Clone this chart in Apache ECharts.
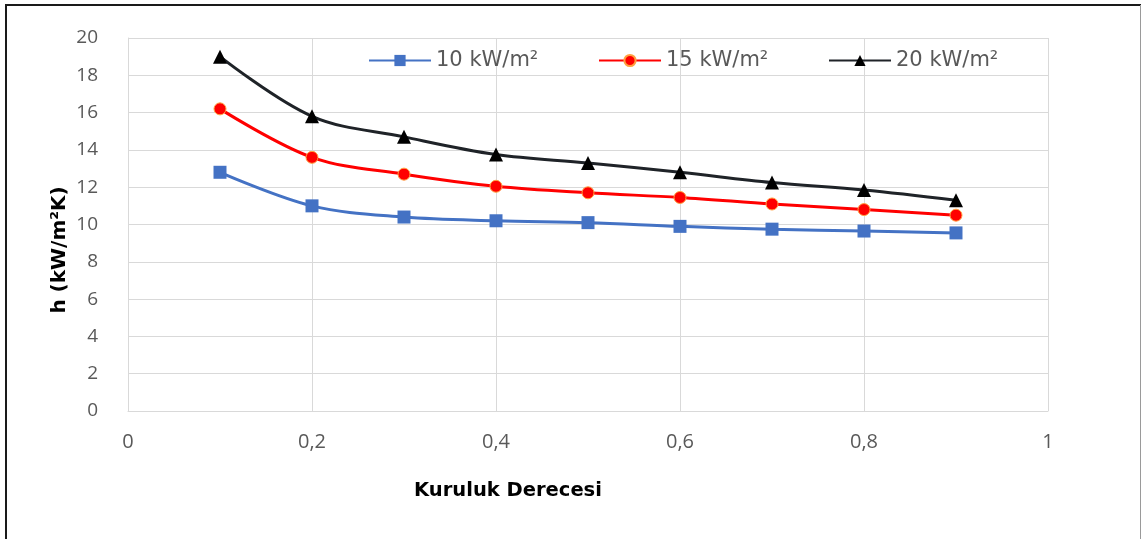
<!DOCTYPE html>
<html>
<head>
<meta charset="utf-8">
<script src="https://cdn.jsdelivr.net/npm/echarts@6/dist/echarts.min.js"></script>
<style>
  html, body { margin: 0; padding: 0; background: #fff; }
  #chart { width: 1142px; height: 539px; }
</style>
</head>
<body>
<div id="chart"></div>
<script>
// Kuruluk derecesi (x) ve ısı transfer katsayısı h (kW/m²K)
const dryness = [0.1, 0.2, 0.3, 0.4, 0.5, 0.6, 0.7, 0.8, 0.9];
const h10 = [12.8, 11.0, 10.4, 10.2, 10.1, 9.9, 9.75, 9.65, 9.55];
const h15 = [16.2, 13.6, 12.7, 12.05, 11.7, 11.45, 11.1, 10.8, 10.5];
const h20 = [19.0, 15.8, 14.7, 13.75, 13.3, 12.8, 12.25, 11.85, 11.3];
const seriesNames = ['10 kW/m²', '15 kW/m²', '20 kW/m²'];
const xTitle = 'Kuruluk Derecesi';
const yTitle = 'h (kW/m²K)';

const pairs = vals => dryness.map((x, i) => [x, vals[i]]);

const chart = echarts.init(document.getElementById('chart'), null, { renderer: 'canvas' });

const tickFont = { fontFamily: 'Open Sans, sans-serif', fontSize: 19, color: '#595959' };
const legendText = { fontFamily: 'DejaVu Sans, sans-serif', fontSize: 21, color: '#595959' };

// one legend block per series so each entry sits at its own x position
const legendAt = (name, left) => ({
  data: [name], left: left, top: 50,
  itemWidth: 62, itemHeight: 14, padding: 0,
  textStyle: legendText
});

chart.setOption({
  animation: false,
  backgroundColor: '#ffffff',
  grid: { left: 128, right: 94, top: 38, bottom: 128, containLabel: false },
  graphic: [
    { type: 'line', shape: { x1: 6, y1: 4, x2: 6, y2: 539 }, style: { stroke: '#1a1a1a', lineWidth: 2 } },
    { type: 'line', shape: { x1: 5, y1: 5, x2: 1141, y2: 5 }, style: { stroke: '#1a1a1a', lineWidth: 2 } },
    { type: 'line', shape: { x1: 1140.5, y1: 5, x2: 1140.5, y2: 539 }, style: { stroke: '#9a9a9a', lineWidth: 1 } },
    {
      type: 'text', x: 60, y: 250, rotation: Math.PI / 2,
      style: { text: yTitle, fontFamily: 'DejaVu Sans, sans-serif', fontWeight: 'bold', fontSize: 20,
               fill: '#000', align: 'center', verticalAlign: 'middle' }
    },
    {
      type: 'text', x: 508, y: 491,
      style: { text: xTitle, fontFamily: 'DejaVu Sans, sans-serif', fontWeight: 'bold', fontSize: 19.5,
               fill: '#000', align: 'center', verticalAlign: 'middle' }
    }
  ],
  legend: [
    legendAt(seriesNames[0], 368),
    legendAt(seriesNames[1], 598),
    legendAt(seriesNames[2], 828)
  ],
  xAxis: {
    type: 'value',
    min: 0, max: 1, interval: 0.2,
    axisLine: { show: true, lineStyle: { color: '#d9d9d9', width: 1 } },
    axisTick: { show: false },
    axisLabel: Object.assign({}, tickFont, { fontSize: 20, margin: 21, formatter: v => String(v).replace('.', ',') }),
    splitLine: { show: true, lineStyle: { color: '#d9d9d9', width: 1 } }
  },
  yAxis: {
    type: 'value',
    min: 0, max: 20, interval: 2,
    axisLine: { show: true, lineStyle: { color: '#d9d9d9', width: 1 } },
    axisTick: { show: false },
    axisLabel: Object.assign({}, tickFont, { margin: 30 }),
    splitLine: { show: true, lineStyle: { color: '#d9d9d9', width: 1 } }
  },
  series: [
    {
      name: seriesNames[0], type: 'line', smooth: 0.35, data: pairs(h10),
      symbol: 'rect', symbolSize: 13,
      lineStyle: { color: '#4472C4', width: 3 },
      itemStyle: { color: '#4472C4' }
    },
    {
      name: seriesNames[1], type: 'line', smooth: 0.35, data: pairs(h15),
      symbol: 'circle', symbolSize: 12,
      lineStyle: { color: '#FF0000', width: 3 },
      itemStyle: { color: '#FF0000', borderColor: '#FFA040', borderWidth: 1 }
    },
    {
      name: seriesNames[2], type: 'line', smooth: 0.35, data: pairs(h20),
      symbol: 'triangle', symbolSize: 14,
      lineStyle: { color: '#1f2328', width: 3 },
      itemStyle: { color: '#000000' }
    }
  ]
});
</script>
</body>
</html>
